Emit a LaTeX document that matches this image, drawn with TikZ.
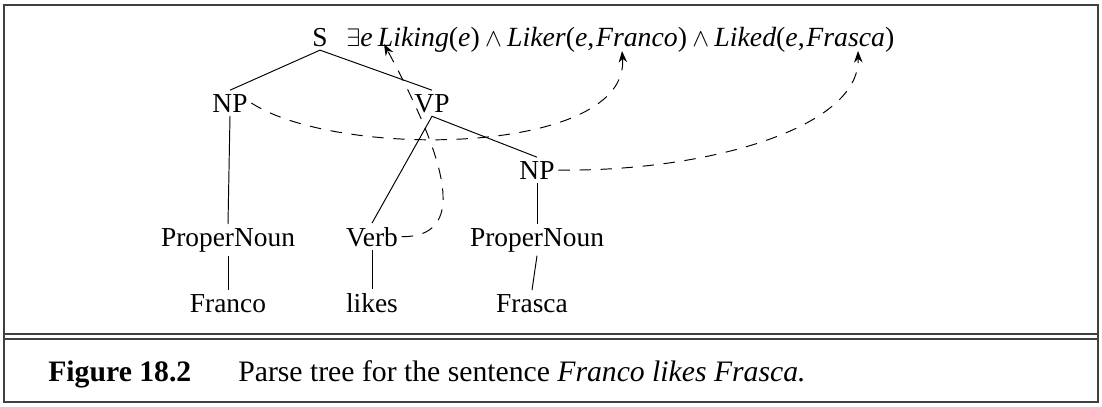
\documentclass[tikz,border=0pt]{standalone}
\usepackage{fontspec}
\setmainfont{Liberation Serif}
\usetikzlibrary{arrows.meta}

\begin{document}
\begin{tikzpicture}[x=0.02cm,y=-0.02cm,
  lbl/.style={anchor=base,inner sep=2pt,font=\fontsize{15.6}{18}\selectfont},
  edge/.style={line width=0.55pt},
  sem/.style={line width=0.55pt,dash pattern=on 6.5pt off 5.5pt,-{Stealth[length=2.3mm,width=1.7mm]}}]

\useasboundingbox (0,0) rectangle (1102,406);

%frame
\draw[line width=0.9pt,black!75] (4,5) rectangle (1098,402);
\draw[line width=0.9pt,black!75] (4,334) -- (1098,334);
\draw[line width=0.9pt,black!75] (4,339) -- (1098,339);

%S and formula
\node[lbl] (s) at (320,46) {S};
\node[lbl,anchor=base west,inner sep=0pt,font=\fontsize{15.8}{19}\selectfont] (sem) at (346,46)
  {$\exists$\textit{e\kern3pt Liking}(\textit{e})\kern3pt$\wedge$\kern3pt\textit{Liker}(\textit{e},\kern1pt\textit{Franco})\kern3pt$\wedge$\kern3pt\textit{Liked}(\textit{e},\kern1pt\textit{Frasca})};
\coordinate (liking) at (384,44);
\coordinate (franco) at (622,51);
\coordinate (frasca) at (858,51);

%NP VP
\node[lbl] (np1) at (230,112) {NP};
\node[lbl] (vp) at (432,112) {VP};
\node[lbl] (np2) at (537,179) {NP};

%preterminals
\node[lbl] (pn1) at (228,246) {ProperNoun};
\node[lbl] (verb) at (372,246) {Verb};
\node[lbl] (pn2) at (537,246) {ProperNoun};

%words
\node[lbl] (w1) at (228,312) {Franco};
\node[lbl] (w2) at (372,312) {likes};
\node[lbl] (w3) at (532,312) {Frasca};

%tree
\draw[edge] (np1.north) -- (s.south) -- (vp.north);
\draw[edge] (verb.north) -- (vp.south) -- (np2.north);
\draw[edge] (np1.south) -- (pn1.north);
\draw[edge] (np2.south) -- (pn2.north);
\draw[edge] (pn1.south) -- (w1.north);
\draw[edge] (verb.south) -- (w2.north);
\draw[edge] (pn2.south) -- (w3.north);

%semantic attachments
\draw[sem] (verb.east) .. controls (465,237) and (452,170) .. (liking);
\draw[sem] (np1.east) .. controls (340,160) and (630,155) .. (franco);
\draw[sem] (np2.east) .. controls (700,172) and (860,130) .. (frasca);

%caption
\node[anchor=base west,inner sep=0pt,font=\fontsize{16.9}{20}\selectfont] (fig) at (48,381) {\textbf{Figure 18.2}};
\node[anchor=base west,inner sep=0pt,font=\fontsize{16.9}{20}\selectfont] (cap) at (238,381) {Parse tree for the sentence \textit{Franco likes Frasca.}};

\end{tikzpicture}
\end{document}
